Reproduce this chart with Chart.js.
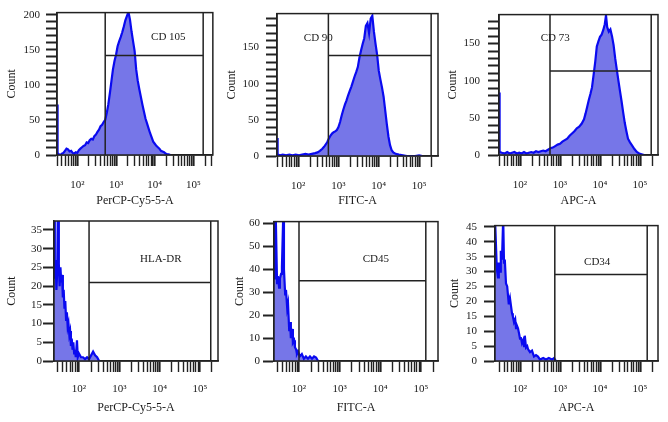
<!DOCTYPE html>
<html lang="en">
<head>
<meta charset="UTF-8">
<title>Flow cytometry histograms</title>
<script src="https://cdnjs.cloudflare.com/ajax/libs/Chart.js/4.4.1/chart.umd.min.js"></script>
<style>
    body { margin: 0; background: #fff; }
    .panel { position: absolute; }
</style>
</head>
<body>
<div class="panel" style="left:0px;top:0px;width:225px;height:212px"><canvas id="p1"></canvas></div>
<div class="panel" style="left:222px;top:0px;width:224px;height:212px"><canvas id="p2"></canvas></div>
<div class="panel" style="left:446px;top:0px;width:222px;height:212px"><canvas id="p3"></canvas></div>
<div class="panel" style="left:0px;top:212px;width:225px;height:210px"><canvas id="p4"></canvas></div>
<div class="panel" style="left:222px;top:212px;width:224px;height:210px"><canvas id="p5"></canvas></div>
<div class="panel" style="left:446px;top:212px;width:222px;height:210px"><canvas id="p6"></canvas></div>

<script>
// x values are log10 of the fluorescence intensity, y values are event counts
const cd105Log = [1.475, 1.49, 1.52, 1.56, 1.60, 1.64, 1.68, 1.72, 1.76, 1.80, 1.84, 1.88, 1.92, 1.96, 2.00, 2.04, 2.08, 2.12, 2.16, 2.20, 2.24, 2.28, 2.32, 2.36, 2.40, 2.44, 2.48, 2.52, 2.56, 2.60, 2.64, 2.68, 2.72, 2.76, 2.80, 2.84, 2.88, 2.92, 2.96, 3.00, 3.04, 3.08, 3.12, 3.16, 3.20, 3.24, 3.28, 3.32, 3.36, 3.40, 3.44, 3.48, 3.52, 3.56, 3.60, 3.64, 3.68, 3.72, 3.76, 3.80, 3.84, 3.88, 3.92, 3.96, 4.00, 4.04, 4.08, 4.12, 4.16, 4.20, 4.24, 4.28, 4.32, 4.36, 4.40];
const cd105Count = [72, 3, 1, 0, 2, 3, 6, 9, 8, 5, 6, 3, 2, 4, 3, 7, 9, 11, 13, 14, 18, 17, 21, 23, 22, 27, 29, 33, 36, 41, 43, 47, 50, 60, 72, 88, 105, 122, 134, 143, 155, 162, 168, 175, 183, 192, 198, 204, 193, 176, 162, 148, 122, 106, 94, 83, 72, 62, 52, 45, 38, 31, 25, 19, 16, 13, 11, 9, 6, 5, 4, 2, 1, 1, 0];

const cd90Log = [1.475, 1.49, 1.55, 1.62, 1.70, 1.78, 1.86, 1.94, 2.02, 2.10, 2.18, 2.26, 2.34, 2.42, 2.48, 2.54, 2.60, 2.66, 2.72, 2.76, 2.80, 2.84, 2.88, 2.92, 2.96, 3.00, 3.04, 3.08, 3.12, 3.16, 3.20, 3.24, 3.28, 3.32, 3.36, 3.40, 3.44, 3.48, 3.52, 3.56, 3.60, 3.64, 3.68, 3.72, 3.76, 3.80, 3.84, 3.88, 3.92, 3.96, 4.00, 4.04, 4.08, 4.12, 4.16, 4.20, 4.24, 4.28, 4.32, 4.36, 4.42, 4.50, 4.60, 4.70, 4.90, 5.00, 5.08];
const cd90Count = [25, 2, 1, 2, 1, 2, 1, 2, 1, 2, 3, 2, 3, 4, 5, 7, 10, 14, 19, 24, 28, 31, 33, 34, 36, 40, 47, 56, 64, 71, 77, 84, 90, 96, 103, 110, 116, 123, 136, 146, 155, 163, 180, 184, 170, 190, 194, 172, 155, 140, 118, 106, 95, 82, 63, 44, 27, 15, 8, 5, 3, 2, 1, 0, 0, 1, 0];

const cd73Log = [1.475, 1.49, 1.55, 1.62, 1.68, 1.74, 1.80, 1.86, 1.92, 1.98, 2.04, 2.10, 2.16, 2.22, 2.28, 2.34, 2.40, 2.46, 2.52, 2.58, 2.64, 2.70, 2.76, 2.82, 2.88, 2.94, 3.00, 3.06, 3.12, 3.18, 3.24, 3.30, 3.36, 3.42, 3.48, 3.54, 3.60, 3.64, 3.68, 3.72, 3.76, 3.80, 3.84, 3.88, 3.92, 3.96, 4.00, 4.04, 4.08, 4.12, 4.15, 4.18, 4.22, 4.26, 4.30, 4.34, 4.38, 4.42, 4.46, 4.50, 4.54, 4.58, 4.62, 4.66, 4.70, 4.75, 4.80, 4.86, 4.92, 4.98, 5.04, 5.10];
const cd73Count = [84, 4, 3, 2, 4, 2, 3, 4, 2, 3, 2, 4, 2, 3, 4, 3, 5, 4, 5, 6, 5, 7, 9, 10, 12, 14, 15, 18, 20, 22, 26, 29, 32, 36, 38, 42, 48, 56, 65, 74, 82, 91, 108, 125, 146, 153, 159, 162, 168, 176, 188, 172, 166, 169, 160, 148, 130, 115, 100, 86, 72, 57, 43, 32, 22, 17, 13, 8, 4, 2, 1, 0];

const hladrLog = [1.38, 1.40, 1.42, 1.44, 1.46, 1.48, 1.50, 1.52, 1.54, 1.56, 1.58, 1.60, 1.62, 1.64, 1.66, 1.68, 1.70, 1.72, 1.74, 1.76, 1.78, 1.80, 1.82, 1.84, 1.86, 1.88, 1.90, 1.92, 1.95, 1.97, 2.00, 2.05, 2.10, 2.15, 2.20, 2.25, 2.30, 2.35, 2.40, 2.45, 2.50];
const hladrCount = [45, 22, 27, 19, 24, 45, 26, 20, 25, 21, 23, 17, 19, 14, 16, 11, 13, 9, 10, 7, 8, 4, 6, 3, 5, 2, 3, 1, 5.5, 1, 2, 1, 1, 0.5, 1, 0.5, 1.5, 2.5, 1.5, 1, 0];

const cd45Log = [1.385, 1.41, 1.43, 1.46, 1.48, 1.51, 1.53, 1.56, 1.58, 1.61, 1.63, 1.66, 1.68, 1.71, 1.73, 1.76, 1.78, 1.80, 1.83, 1.85, 1.88, 1.90, 1.93, 1.95, 1.98, 2.02, 2.07, 2.12, 2.17, 2.22, 2.27, 2.32, 2.37, 2.42, 2.47];
const cd45Count = [62, 36, 62, 34, 37, 32, 36, 38, 41, 62, 40, 29, 31, 23, 25, 13, 17, 10, 14, 8, 9, 6, 5, 3, 4, 2, 3, 1, 2, 1, 2, 1, 2, 1.5, 0];

const cd34Log = [1.375, 1.42, 1.45, 1.47, 1.50, 1.52, 1.55, 1.58, 1.60, 1.62, 1.65, 1.68, 1.70, 1.72, 1.75, 1.78, 1.80, 1.82, 1.85, 1.88, 1.90, 1.92, 1.95, 1.98, 2.00, 2.02, 2.05, 2.08, 2.10, 2.12, 2.15, 2.18, 2.20, 2.25, 2.30, 2.35, 2.40, 2.45, 2.50, 2.58, 2.65, 2.72, 2.80, 2.85, 2.90];
const cd34Count = [48, 31, 28, 33, 30, 37, 34, 48, 33, 34, 26, 25, 22, 19, 21, 18, 16, 15, 13, 14, 11, 12, 11, 9, 7.5, 8, 6, 7, 5, 8.5, 4.5, 5, 4, 3, 3.5, 1.5, 2, 1.5, 0.5, 1, 0.5, 1, 0.5, 1, 0];

const markerNames = ['CD 105', 'CD 90', 'CD 73', 'HLA-DR', 'CD45', 'CD34'];
const channelNames = ['PerCP-Cy5-5-A', 'FITC-A', 'APC-A', 'PerCP-Cy5-5-A', 'FITC-A', 'APC-A'];
// gate: left edge, right edge (log10) and the level of the bar
const gateLow = [2.72, 2.75, 2.75, 2.25, 2.0, 2.87];
const gateHigh = [5.25, 5.30, 5.28, 5.27, 5.12, 5.18];
const gateLevel = [142, 139, 113, 21, 35, 29];
const markerX = [4.35, 2.50, 2.88, 4.03, 3.89, 3.93];
const markerY = [168, 163, 157, 27.3, 44.3, 33.2];
const yMax = [203, 197, 189, 37.4, 60.8, 45.4];
const yLabelStep = [50, 50, 50, 5, 10, 5];
const yMinorStep = [10, 10, 10, 5, 10, 5];
const xMin = [1.475, 1.475, 1.475, 1.38, 1.385, 1.375];
const xMax = [5.5, 5.47, 5.45, 5.45, 5.42, 5.45];
const decadeLabels = { 2: '10²', 3: '10³', 4: '10⁴', 5: '10⁵' };

const logs = [cd105Log, cd90Log, cd73Log, hladrLog, cd45Log, cd34Log];
const counts = [cd105Count, cd90Count, cd73Count, hladrCount, cd45Count, cd34Count];

// layout of each panel inside its canvas
const layouts = [
    { yW: 57, top: 9, right: 7, xH: 57, yPad: 6, yTitlePad: 5, xPad: 13, xTitlePad: 4 },
    { yW: 55, top: 9, right: 8, xH: 56, yPad: 7, yTitlePad: 3, xPad: 13, xTitlePad: 4 },
    { yW: 53, top: 9, right: 10, xH: 57, yPad: 8, yTitlePad: 0, xPad: 13, xTitlePad: 4 },
    { yW: 54, top: 9, right: 7, xH: 61, yPad: 1, yTitlePad: 5, xPad: 11, xTitlePad: 7 },
    { yW: 52, top: 9, right: 8, xH: 61, yPad: 3, yTitlePad: 11, xPad: 11, xTitlePad: 7 },
    { yW: 49, top: 9, right: 10, xH: 61, yPad: 7, yTitlePad: 2, xPad: 11, xTitlePad: 7 }
];

const FONT = 'Liberation Serif';
const INK = '#1a1a1a';

// frame around the plot, gate lines and the marker name
const gatePlugin = {
    id: 'gate',
    afterDatasetsDraw(chart, args, opts) {
        const { ctx, chartArea: a, scales: { x, y } } = chart;
        ctx.save();
        ctx.strokeStyle = '#222';
        ctx.lineWidth = 1.5;
        const gl = x.getPixelForValue(opts.low);
        const gh = x.getPixelForValue(opts.high);
        const gy = y.getPixelForValue(opts.level);
        ctx.beginPath();
        ctx.moveTo(gl, a.top); ctx.lineTo(gl, a.bottom);
        ctx.moveTo(gh, a.top); ctx.lineTo(gh, a.bottom);
        ctx.moveTo(gl, gy); ctx.lineTo(gh, gy);
        ctx.stroke();
        ctx.strokeRect(a.left, a.top, a.width, a.height);
        ctx.fillStyle = INK;
        ctx.font = '11px "' + FONT + '"';
        ctx.textAlign = 'center';
        ctx.textBaseline = 'middle';
        ctx.fillText(opts.label, x.getPixelForValue(opts.lx), y.getPixelForValue(opts.ly));
        ctx.restore();
    }
};

function createPanel(i) {
    const L = layouts[i];
    const points = logs[i].map((v, k) => ({ x: v, y: counts[i][k] }));
    return new Chart(document.getElementById('p' + (i + 1)), {
        type: 'line',
        data: {
            datasets: [{
                data: points,
                borderColor: '#0a0af0',
                backgroundColor: '#7676e8',
                borderWidth: 2.2,
                fill: 'origin',
                pointRadius: 0,
                tension: 0
            }]
        },
        plugins: [gatePlugin],
        options: {
            responsive: true,
            maintainAspectRatio: false,
            animation: false,
            layout: { padding: { top: L.top, right: L.right, left: 0, bottom: 0 } },
            scales: {
                x: {
                    type: 'linear',
                    min: xMin[i],
                    max: xMax[i],
                    afterBuildTicks: (scale) => {
                        const ticks = [];
                        for (let n = 1; n <= 5; n++) {
                            for (let k = 1; k <= 9; k++) {
                                const v = Math.log10(k * Math.pow(10, n));
                                if (v >= scale.min && v <= scale.max) ticks.push({ value: v, major: k === 1 });
                            }
                        }
                        scale.ticks = ticks;
                    },
                    afterFit: (scale) => { scale.height = L.xH; },
                    grid: {
                        drawOnChartArea: false,
                        tickLength: 11,
                        color: '#222',
                        tickWidth: (c) => (c.tick && c.tick.major ? 2.2 : 1.4)
                    },
                    border: { color: '#222', width: 1.5 },
                    ticks: {
                        autoSkip: false,
                        maxRotation: 0,
                        padding: L.xPad,
                        color: INK,
                        font: { family: FONT, size: 11 },
                        callback: (value) => {
                            const n = Math.round(value);
                            return Math.abs(value - n) < 1e-6 && decadeLabels[n] ? decadeLabels[n] : '';
                        }
                    },
                    title: {
                        display: true,
                        text: channelNames[i],
                        color: INK,
                        font: { family: FONT, size: 12 },
                        padding: { top: 0, bottom: L.xTitlePad }
                    }
                },
                y: {
                    min: 0,
                    max: yMax[i],
                    afterBuildTicks: (scale) => {
                        const ticks = [];
                        for (let v = 0; v <= yMax[i]; v += yMinorStep[i]) ticks.push({ value: v });
                        scale.ticks = ticks;
                    },
                    afterFit: (scale) => { scale.width = L.yW; },
                    grid: {
                        drawOnChartArea: false,
                        tickLength: 11,
                        color: '#222',
                        tickWidth: 2
                    },
                    border: { color: '#222', width: 1.5 },
                    ticks: {
                        autoSkip: false,
                        padding: L.yPad,
                        color: INK,
                        font: { family: FONT, size: 11 },
                        callback: (value) => (value % yLabelStep[i] === 0 ? String(value) : '')
                    },
                    title: {
                        display: true,
                        text: 'Count',
                        color: INK,
                        font: { family: FONT, size: 12 },
                        padding: { top: L.yTitlePad, bottom: 0 }
                    }
                }
            },
            plugins: {
                legend: { display: false },
                tooltip: { enabled: false },
                gate: {
                    low: gateLow[i],
                    high: gateHigh[i],
                    level: gateLevel[i],
                    label: markerNames[i],
                    lx: markerX[i],
                    ly: markerY[i]
                }
            }
        }
    });
}

for (let i = 0; i < 6; i++) createPanel(i);
</script>
</body>
</html>
